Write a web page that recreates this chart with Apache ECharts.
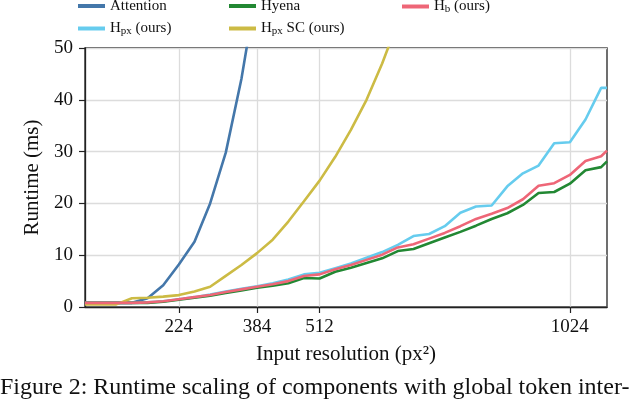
<!DOCTYPE html>
<html>
<head>
<meta charset="utf-8">
<script src="https://cdn.jsdelivr.net/npm/echarts@6/dist/echarts.min.js"></script>
<style>
  html, body { margin: 0; padding: 0; background: #fff; }
  #chart { width: 640px; height: 399px; }
</style>
</head>
<body>
<div id="chart"></div>
<script>
// input resolution (px) for each measured point
var resolutions = [32, 64, 96, 128, 160, 192, 224, 256, 288, 320, 352, 384, 416, 448, 480, 512, 544, 576,
  608, 640, 672, 704, 736, 768, 800, 832, 864, 896, 928, 960, 992, 1024, 1056, 1088, 1100];
var xTickValues = [224, 384, 512, 1024];
var yTickValues = [0, 10, 20, 30, 40, 50];

// runtime in ms
var attention = [0.8, 0.8, 0.8, 0.8, 1.7, 4.2, 8.2, 12.6, 20.0, 29.8, 44.0, 62.0];
var hyena = [0.8, 0.8, 0.8, 0.8, 0.8, 1.0, 1.4, 1.8, 2.2, 2.7, 3.2, 3.7, 4.1, 4.6, 5.6, 5.5, 6.8, 7.6,
  8.5, 9.4, 10.8, 11.2, 12.3, 13.4, 14.5, 15.7, 17.0, 18.1, 19.7, 22.0, 22.2, 23.8, 26.4, 27.0, 28.1];
var hb = [0.8, 0.8, 0.8, 0.8, 0.9, 1.1, 1.5, 1.9, 2.3, 2.9, 3.4, 3.9, 4.4, 5.0, 6.0, 6.3, 7.3, 8.1,
  9.1, 10.1, 11.5, 12.1, 13.2, 14.3, 15.6, 17.0, 18.0, 19.1, 20.8, 23.4, 23.9, 25.5, 28.2, 29.1, 30.2];
var hpx = [0.8, 0.8, 0.8, 0.8, 0.9, 1.1, 1.5, 1.9, 2.4, 3.0, 3.5, 4.0, 4.6, 5.3, 6.3, 6.6, 7.5, 8.4,
  9.5, 10.6, 12.0, 13.7, 14.1, 15.6, 18.2, 19.4, 19.6, 23.3, 25.8, 27.3, 31.6, 31.8, 36.2, 42.3, 42.3];
var hpxSC = [0.5, 0.5, 0.5, 1.7, 1.8, 2.0, 2.3, 3.0, 3.9, 6.0, 8.1, 10.4, 13.0, 16.5, 20.4, 24.4, 29.0,
  34.2, 40.0, 47.0, 55.0];

var FONT = 'Liberation Serif';

function pairs(vals){
	var out = [];
	for(var i = 0; i < vals.length; i++){
		out.push([resolutions[i], vals[i]]);
	}
	return out;
}

function lineSeries(name, vals, color){
	return {
		name: name,
		type: 'line',
		data: pairs(vals),
		showSymbol: false,
		clip: true,
		lineStyle: { width: 2.6, color: color },
		itemStyle: { color: color },
		emphasis: { disabled: true }
	};
}

var legendNames = {
	'Attention': 'Attention',
	'Hyena': 'Hyena',
	'Hpx (ours)': 'H{sub|px} (ours)',
	'Hpx SC (ours)': 'H{sub|px} SC (ours)',
	'Hb (ours)': 'H{sub|b} (ours)'
};

function legendCol(left, names){
	return {
		orient: 'vertical',
		left: left,
		top: -7,
		itemWidth: 27,
		itemHeight: 4,
		itemGap: 6,
		icon: 'rect',
		selectedMode: false,
		data: names,
		formatter: function(n){ return legendNames[n]; },
		textStyle: {
			fontFamily: FONT,
			fontSize: 15,
			color: '#111',
			lineHeight: 16,
			padding: [0, 0, 0, 0],
			rich: {
				sub: { fontFamily: FONT, fontSize: 11, color: '#111', lineHeight: 16, padding: [6, 0, 0, 0] }
			}
		}
	};
}

var chart = echarts.init(document.getElementById('chart'));

var option = {
	animation: false,
	backgroundColor: '#fff',
	legend: [
		legendCol(73, ['Attention', 'Hpx (ours)']),
		legendCol(224, ['Hyena', 'Hpx SC (ours)']),
		legendCol(397, ['Hb (ours)'])
	],
	grid: {
		left: 85, right: 33, top: 48, bottom: 92,
		show: true,
		borderColor: '#222',
		borderWidth: 1.3
	},
	xAxis: {
		type: 'value',
		min: 32,
		max: 1100,
		name: 'Input resolution (px²)',
		nameLocation: 'middle',
		nameGap: 37,
		nameTextStyle: { fontFamily: FONT, fontSize: 21, color: '#111' },
		axisLine: { show: true, onZero: false, lineStyle: { color: '#222', width: 1.3 } },
		axisTick: { show: true, customValues: xTickValues, length: 6, lineStyle: { color: '#222', width: 1.2 } },
		axisLabel: {
			customValues: xTickValues,
			formatter: function(v){ return String(v); },
			fontFamily: FONT, fontSize: 19, color: '#111', margin: 11
		},
		splitLine: { show: true, lineStyle: { color: '#dcdcdc', width: 1.3 } }
	},
	yAxis: {
		type: 'value',
		min: 0,
		max: 50,
		interval: 10,
		name: 'Runtime (ms)',
		nameLocation: 'middle',
		nameGap: 37,
		nameTextStyle: { fontFamily: FONT, fontSize: 21, color: '#111' },
		axisLine: { show: true, lineStyle: { color: '#222', width: 1.3 } },
		axisTick: { show: true, length: 6, lineStyle: { color: '#222', width: 1.2 } },
		axisLabel: { fontFamily: FONT, fontSize: 19, color: '#111', margin: 12 },
		splitLine: { show: true, lineStyle: { color: '#dcdcdc', width: 1.3 } }
	},
	graphic: [{
		type: 'text',
		left: 0,
		top: 376,
		style: {
			text: 'Figure 2: Runtime scaling of components with global token inter-',
			fontFamily: FONT,
			fontSize: 24,
			fill: '#111'
		}
	}],
	series: [
		lineSeries('Attention', attention, '#4477AA'),
		lineSeries('Hpx (ours)', hpx, '#66CCEE'),
		lineSeries('Hyena', hyena, '#228833'),
		lineSeries('Hpx SC (ours)', hpxSC, '#CCBB44'),
		lineSeries('Hb (ours)', hb, '#EE6677')
	]
};

chart.setOption(option);
</script>
</body>
</html>
